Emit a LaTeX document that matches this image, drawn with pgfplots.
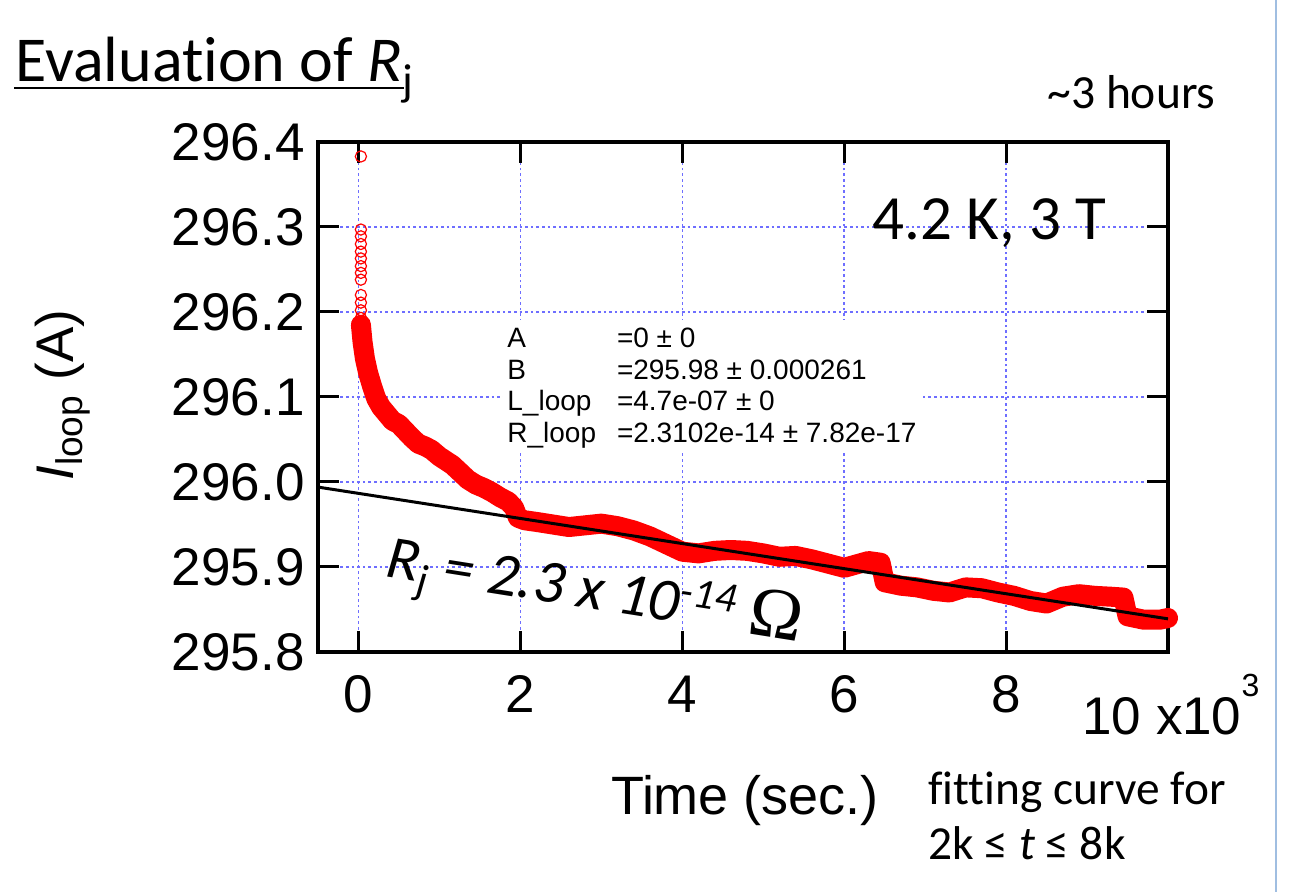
\documentclass[border=0pt]{standalone}
\usepackage{fontspec}
\setmainfont{Liberation Sans}
\newfontfamily\calfont[Ligatures=NoCommon]{Carlito}
\newfontfamily\serifO{Liberation Serif}
\usepackage{pgfplots}
\pgfplotsset{compat=1.18}
\definecolor{gridblue}{RGB}{110,110,255}
\definecolor{slideblue}{RGB}{160,190,225}
\begin{document}
\begin{tikzpicture}[x=1pt,y=1pt]
\useasboundingbox (0,0) rectangle (651.5,446);
\begin{axis}[
  at={(159pt,120pt)}, anchor=south west,
  scale only axis, width=425pt, height=255pt,
  xmin=-0.5, xmax=10, ymin=295.8, ymax=296.4,
  xtick={0,2,4,6,8,10}, xticklabels={0,2,4,6,8,{}},
  ytick={295.8,295.9,296.0,296.1,296.2,296.3,296.4},
  yticklabels={295.8,295.9,296.0,296.1,296.2,296.3,296.4},
  /pgf/number format/assume math mode=true,
  tick align=inside, major tick length=10.5pt,
  tick style={black, line width=1.5pt},
  axis line style={line width=2pt},
  grid=major,
  major grid style={gridblue, line width=0.75pt, dash pattern=on 1.3pt off 1.5pt},
  tick label style={font=\fontsize{26.5}{30}\selectfont},
  yticklabel style={anchor=east, inner sep=0pt, xshift=-6.5pt},
  xticklabel style={anchor=base, inner sep=0pt, yshift=-30.5pt},
  clip=false,
]
% measured current (band centre)
\addplot[red, line width=10pt, line join=round, line cap=round] table[row sep=\\] {
x y\\
0.03 296.185\\
0.05 296.165\\
0.08 296.145\\
0.12 296.128\\
0.17 296.112\\
0.22 296.098\\
0.28 296.088\\
0.35 296.080\\
0.42 296.072\\
0.50 296.068\\
0.58 296.060\\
0.66 296.052\\
0.74 296.045\\
0.82 296.042\\
0.90 296.038\\
1.00 296.030\\
1.08 296.025\\
1.16 296.020\\
1.25 296.012\\
1.35 296.003\\
1.45 295.997\\
1.55 295.993\\
1.65 295.988\\
1.75 295.982\\
1.85 295.977\\
1.92 295.970\\
1.97 295.958\\
2.05 295.955\\
2.20 295.953\\
2.40 295.950\\
2.60 295.947\\
2.80 295.949\\
3.00 295.951\\
3.20 295.948\\
3.40 295.943\\
3.60 295.936\\
3.80 295.927\\
4.00 295.918\\
4.20 295.916\\
4.40 295.919\\
4.60 295.920\\
4.80 295.919\\
5.00 295.916\\
5.20 295.912\\
5.40 295.913\\
5.60 295.909\\
5.80 295.904\\
6.00 295.899\\
6.15 295.903\\
6.30 295.907\\
6.45 295.905\\
6.50 295.882\\
6.70 295.878\\
6.90 295.876\\
7.10 295.872\\
7.30 295.870\\
7.50 295.876\\
7.70 295.875\\
7.90 295.870\\
8.10 295.866\\
8.30 295.860\\
8.50 295.857\\
8.70 295.865\\
8.90 295.868\\
9.10 295.866\\
9.30 295.865\\
9.45 295.864\\
9.50 295.842\\
9.70 295.838\\
9.90 295.838\\
10.0 295.840\\
};
% sparse early points
\addplot[only marks, mark=o, red, mark size=2.8pt, mark options={line width=0.6pt}] coordinates {
(0.03,296.383) (0.03,296.297) (0.03,296.289) (0.03,296.280) (0.03,296.271)
(0.03,296.263) (0.03,296.254) (0.03,296.246) (0.03,296.238) (0.03,296.220)
(0.03,296.211) (0.03,296.202) (0.03,296.193)
};
% fitting line
\addplot[black, line width=1.5pt] coordinates {(-0.5,295.994) (10,295.839)};
\end{axis}
% fit-result box
\fill[white] (251.5,220) rectangle (461.5,286);
\begin{scope}[every node/.style={inner sep=0pt, anchor=base west, font=\fontsize{14}{15}\selectfont}]
\node at (253.5,272) {A};
\node at (308.3,272) {=0 ± 0};
\node at (253.5,256.25) {B};
\node at (308.3,256.25) {=295.98 ± 0.000261};
\node at (253.5,240.5) {L\_loop};
\node at (308.3,240.5) {=4.7e-07 ± 0};
\node at (253.5,224.75) {R\_loop};
\node at (308.3,224.75) {=2.3102e-14 ± 7.82e-17};
\end{scope}
% title
\node[inner sep=0pt, anchor=base west, font=\calfont\fontsize{32}{36}\selectfont] at (7.5,405) {Evaluation of \textit{R}\textsubscript{j}};
\draw[line width=1.2pt] (7,402) -- (202,402);
% annotations
\node[inner sep=0pt, anchor=base west, font=\calfont\fontsize{23.8}{26}\selectfont] at (523.5,391.5) {\textasciitilde3 hours};
\node[inner sep=0pt, anchor=base west, font=\calfont\fontsize{31.5}{34}\selectfont] at (436,326) {4.2 K, 3 T};
\node[inner sep=0pt, anchor=base west, rotate=-9, font=\calfont\itshape\fontsize{30.5}{32}\selectfont] at (192,158) {R\textsubscript{j} = 2.3 x 10\textsuperscript{-14} {\serifO\upshape\fontsize{36}{36}\selectfont Ω}};
\node[inner sep=0pt, anchor=base west, align=left, font=\calfont\fontsize{23.7}{27.5}\selectfont] at (464,16) {fitting curve for\\2k ≤ \textit{t} ≤ 8k};
% axis labels
\node[inner sep=0pt, anchor=base, font=\fontsize{27}{30}\selectfont] at (372.5,38.5) {Time (sec.)};
\node[inner sep=0pt, anchor=base, rotate=90, font=\fontsize{26.5}{30}\selectfont] at (36.5,248.5) {\textit{I}\textsubscript{loop} (A)};
\node[inner sep=0pt, anchor=base west, font=\fontsize{26.5}{30}\selectfont] at (541,78.5) {10 x10\raisebox{19pt}{\fontsize{16}{18}\selectfont 3}};
% slide border
\draw[slideblue, line width=0.8pt] (638,0) -- (638,446);
\end{tikzpicture}
\end{document}
